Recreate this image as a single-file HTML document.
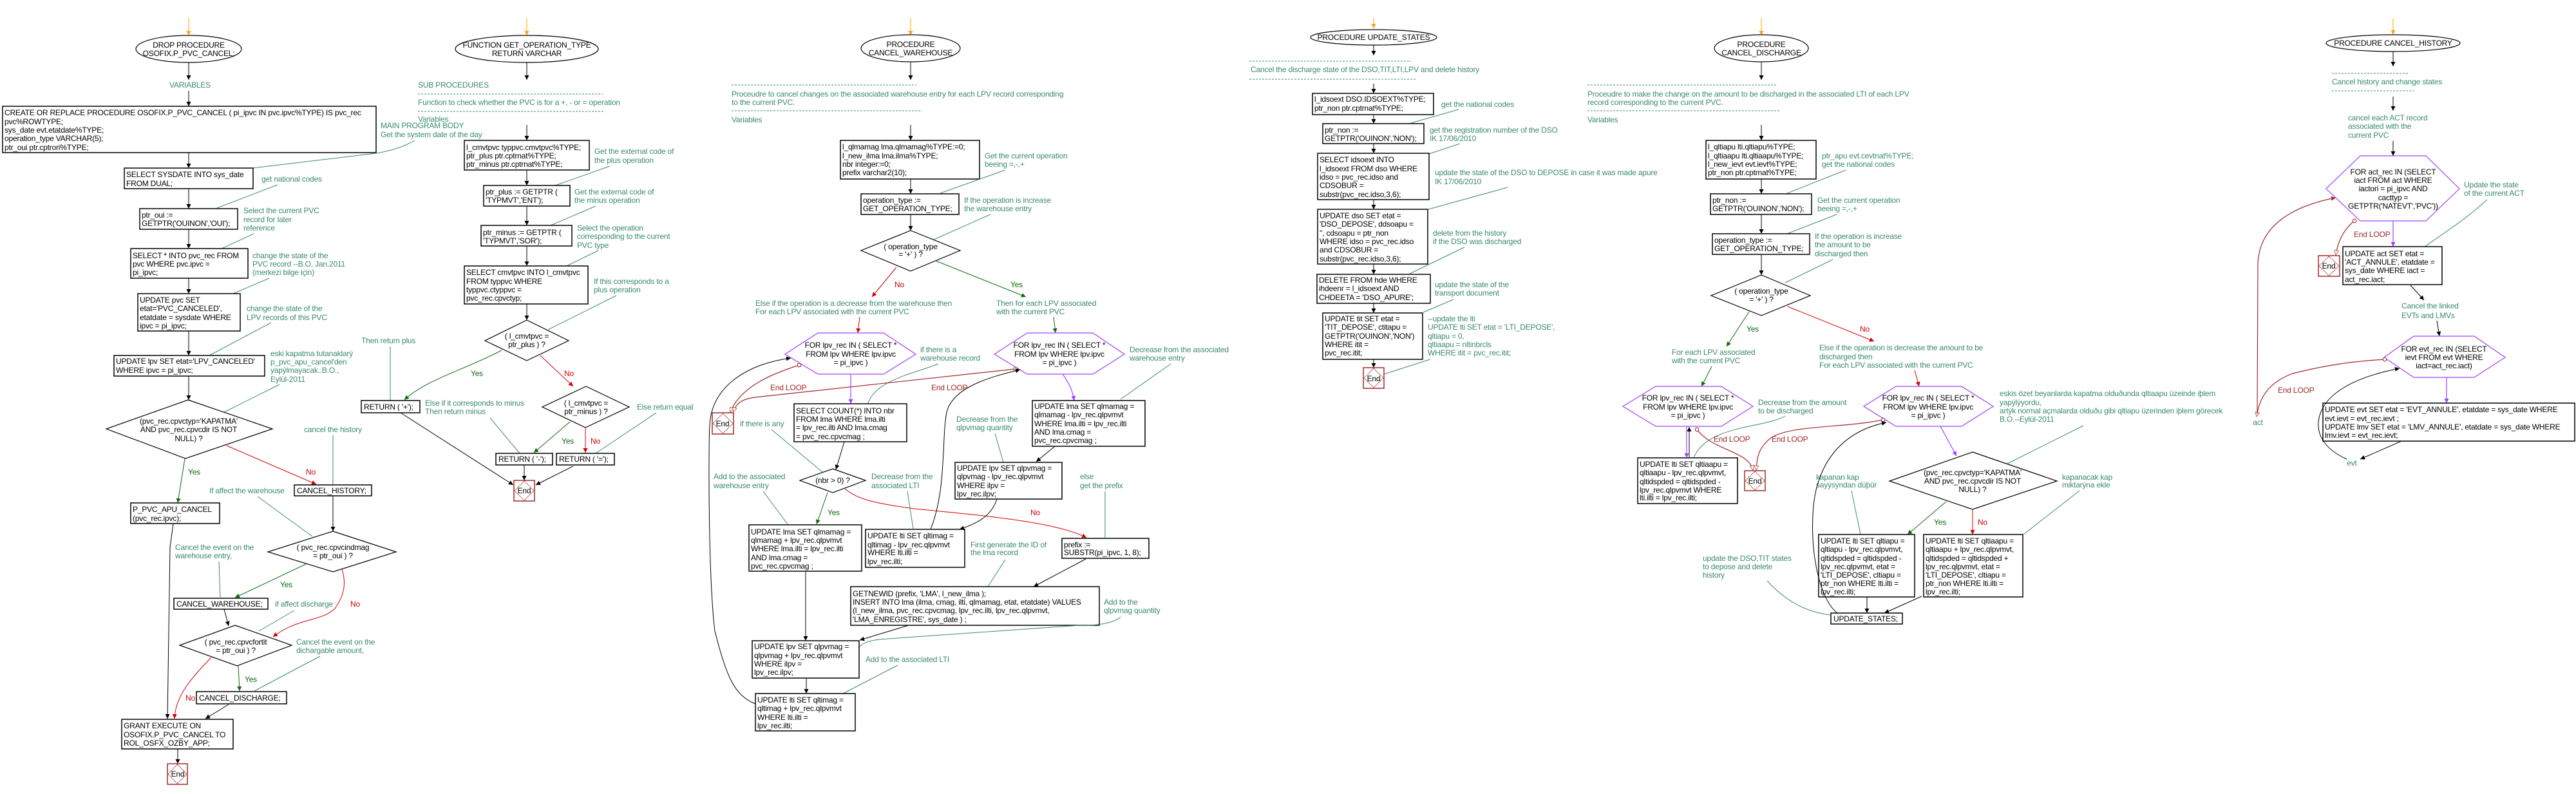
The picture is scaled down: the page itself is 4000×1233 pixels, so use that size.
<!DOCTYPE html>
<html><head><meta charset="utf-8"><style>
html,body{margin:0;padding:0;background:#fff;}
svg{display:block;}
text{font-family:"Liberation Sans","DejaVu Sans",sans-serif;font-size:12px;letter-spacing:-0.2px;fill:#000;}
.c{fill:#3a8a6e;}
.y{fill:#0a6a0a;}
.n{fill:#d00000;}
.l{fill:#a02828;}
.m{text-anchor:middle;}
.b{fill:#fff;stroke:#000;stroke-width:1.5;}
.f{fill:none;stroke:#000;stroke-width:1;}
.g{fill:none;stroke:#3a8a6e;stroke-width:1;}
.gy{fill:none;stroke:#0a6a0a;stroke-width:1;}
.rd{fill:none;stroke:#d00000;stroke-width:1;}
.lp{fill:none;stroke:#a02828;stroke-width:1.2;}
.pu{fill:none;stroke:#a040ff;stroke-width:1.2;}
.hx{fill:#fff;stroke:#a040ff;stroke-width:1.2;}
.dm{fill:#fff;stroke:#000;stroke-width:1.2;}
.el{fill:#fff;stroke:#000;stroke-width:1.2;}
.ds{stroke:#3a8a6e;stroke-width:1;stroke-dasharray:3,2;}
.eb{fill:#fff;stroke:#a02828;stroke-width:1.5;}
.ed{fill:none;stroke:#a02828;stroke-width:1;stroke-dasharray:2,1;}
</style></head><body>
<svg width="4000" height="1233" viewBox="0 0 4000 1233" xmlns="http://www.w3.org/2000/svg">
<defs>
<marker id="ab" viewBox="0 0 10 10" refX="10" refY="5" markerWidth="14" markerHeight="7" orient="auto" markerUnits="userSpaceOnUse"><path d="M0,0 L10,5 L0,10 z" fill="#000"/></marker>
<marker id="ao" viewBox="0 0 10 10" refX="10" refY="5" markerWidth="14" markerHeight="7" orient="auto" markerUnits="userSpaceOnUse"><path d="M0,0 L10,5 L0,10 z" fill="#ffa500"/></marker>
<marker id="ag" viewBox="0 0 10 10" refX="10" refY="5" markerWidth="14" markerHeight="7" orient="auto" markerUnits="userSpaceOnUse"><path d="M0,0 L10,5 L0,10 z" fill="#0a6a0a"/></marker>
<marker id="ar" viewBox="0 0 10 10" refX="10" refY="5" markerWidth="14" markerHeight="7" orient="auto" markerUnits="userSpaceOnUse"><path d="M0,0 L10,5 L0,10 z" fill="#d00000"/></marker>
<marker id="ap" viewBox="0 0 10 10" refX="10" refY="5" markerWidth="14" markerHeight="7" orient="auto" markerUnits="userSpaceOnUse"><path d="M0,0 L10,5 L0,10 z" fill="#a040ff"/></marker>
<marker id="al" viewBox="0 0 10 10" refX="10" refY="5" markerWidth="14" markerHeight="7" orient="auto" markerUnits="userSpaceOnUse"><path d="M0,0 L10,5 L0,10 z" fill="#a02828"/></marker>
<marker id="alo" viewBox="0 0 10 10" refX="10" refY="5" markerWidth="12" markerHeight="7" orient="auto" markerUnits="userSpaceOnUse"><path d="M0,0 L10,5 L0,10 z" fill="#fff" stroke="#a02828"/></marker>
<marker id="ci" viewBox="0 0 10 10" refX="5" refY="5" markerWidth="7" markerHeight="7" markerUnits="userSpaceOnUse"><circle cx="5" cy="5" r="4" fill="#fff" stroke="#a02828" stroke-width="1.5"/></marker>
</defs>

<!-- ================= COLUMN 1 ================= -->
<line x1="293" y1="28" x2="293" y2="55" stroke="#ffa500" marker-end="url(#ao)"/>
<ellipse class="el" cx="293" cy="76" rx="82" ry="21"/>
<text class="m" x="293" y="74">DROP PROCEDURE</text>
<text class="m" x="293" y="87">OSOFIX.P_PVC_CANCEL;</text>
<line class="f" x1="293" y1="97" x2="293" y2="124" marker-end="url(#ab)"/>
<text class="c m" x="295" y="136">VARIABLES</text>
<line class="f" x1="293" y1="141" x2="293" y2="165" marker-end="url(#ab)"/>
<rect class="b" x="4" y="165" width="580" height="72"/>
<text x="7" y="179">CREATE OR REPLACE PROCEDURE OSOFIX.P_PVC_CANCEL ( pi_ipvc IN pvc.ipvc%TYPE) IS pvc_rec</text>
<text x="7" y="193">pvc%ROWTYPE;</text>
<text x="7" y="206">sys_date  evt.etatdate%TYPE;</text>
<text x="7" y="219">operation_type  VARCHAR(5);</text>
<text x="7" y="233">ptr_oui  ptr.cptrori%TYPE;</text>
<text class="c" x="591" y="199">MAIN PROGRAM BODY</text>
<text class="c" x="591" y="213">Get the system date of the day</text>
<path class="g" d="M644,218 Q620,232 584,238 L392,261"/>
<line class="f" x1="293" y1="237" x2="293" y2="261" marker-end="url(#ab)"/>
<rect class="b" x="193" y="261" width="200" height="32"/>
<text x="196" y="275">SELECT SYSDATE INTO sys_date</text>
<text x="196" y="289">FROM DUAL;</text>
<text class="c" x="406" y="282">get national codes</text>
<line class="g" x1="431" y1="287" x2="337" y2="323"/>
<line class="f" x1="293" y1="293" x2="293" y2="324" marker-end="url(#ab)"/>
<rect class="b" x="217" y="324" width="152" height="32"/>
<text x="220" y="338">ptr_oui :=</text>
<text x="220" y="351">GETPTR('OUINON','OUI');</text>
<text class="c" x="378" y="331">Select the current PVC</text>
<text class="c" x="378" y="345">record for later</text>
<text class="c" x="378" y="358">reference</text>
<line class="g" x1="394" y1="363" x2="344" y2="386"/>
<line class="f" x1="293" y1="356" x2="293" y2="386" marker-end="url(#ab)"/>
<rect class="b" x="203" y="386" width="182" height="46"/>
<text x="206" y="401">SELECT * INTO pvc_rec FROM</text>
<text x="206" y="414">pvc WHERE  pvc.ipvc =</text>
<text x="206" y="427">pi_ipvc;</text>
<text class="c" x="392" y="401">change the state of the</text>
<text class="c" x="392" y="414">PVC record --B.O, Jan.2011</text>
<text class="c" x="392" y="427">(merkezi bilge için)</text>
<line class="g" x1="418" y1="432" x2="362" y2="456"/>
<line class="f" x1="293" y1="432" x2="293" y2="456" marker-end="url(#ab)"/>
<rect class="b" x="214" y="456" width="159" height="58"/>
<text x="217" y="470">UPDATE pvc SET</text>
<text x="217" y="483">etat='PVC_CANCELED',</text>
<text x="217" y="497">etatdate = sysdate WHERE</text>
<text x="217" y="510">ipvc = pi_ipvc;</text>
<text class="c" x="383" y="483">change the state of the</text>
<text class="c" x="383" y="497">LPV records of this PVC</text>
<line class="g" x1="421" y1="501" x2="325" y2="552"/>
<line class="f" x1="293" y1="514" x2="293" y2="552" marker-end="url(#ab)"/>
<rect class="b" x="177" y="552" width="234" height="32"/>
<text x="180" y="565">UPDATE lpv SET etat='LPV_CANCELED'</text>
<text x="180" y="579">WHERE ipvc = pi_ipvc;</text>
<text class="c" x="420" y="553">eski kapatma tutanaklarý</text>
<text class="c" x="420" y="566">p_pvc_apu_cancel'den</text>
<text class="c" x="420" y="579">yapýlmayacak..B.O.,</text>
<text class="c" x="420" y="593">Eylül-2011</text>
<line class="g" x1="434" y1="597" x2="348" y2="640"/>
<line class="f" x1="293" y1="584" x2="293" y2="621" marker-end="url(#ab)"/>
<polygon class="dm" points="292,621 423,666 288,712 165,666"/>
<text class="m" x="293" y="658">(pvc_rec.cpvctyp='KAPATMA'</text>
<text class="m" x="293" y="671">AND pvc_rec.cpvcdir IS NOT</text>
<text class="m" x="293" y="685">NULL) ?</text>
<line class="gy" x1="287" y1="712" x2="276" y2="781" marker-end="url(#ag)"/>
<text class="y" x="292" y="737">Yes</text>
<line class="rd" x1="352" y1="692" x2="491" y2="752" marker-end="url(#ar)"/>
<text class="n" x="475" y="737">No</text>
<text class="c m" x="517" y="671">cancel the history</text>
<line class="g" x1="517" y1="676" x2="517" y2="753"/>
<rect class="b" x="457" y="753" width="120" height="17"/>
<text x="461" y="766">CANCEL_HISTORY;</text>
<rect class="b" x="203" y="781" width="138" height="32"/>
<text x="206" y="795">P_PVC_APU_CANCEL</text>
<text x="206" y="809">(pvc_rec.ipvc);</text>
<text class="c" x="325" y="766">If affect the warehouse</text>
<line class="g" x1="400" y1="771" x2="485" y2="833"/>
<line class="f" x1="517" y1="770" x2="517" y2="825" marker-end="url(#ab)"/>
<polygon class="dm" points="517,825 615,857 517,888 416,857"/>
<text class="m" x="517" y="854">( pvc_rec.cpvcindmag</text>
<text class="m" x="517" y="867">= ptr_oui ) ?</text>
<line class="gy" x1="475" y1="876" x2="365" y2="928" marker-end="url(#ag)"/>
<text class="y" x="435" y="912">Yes</text>
<rect class="b" x="270" y="929" width="146" height="17"/>
<text x="274" y="942">CANCEL_WAREHOUSE;</text>
<text class="c" x="272" y="854">Cancel the event on the</text>
<text class="c" x="272" y="867">warehouse entry,</text>
<line class="g" x1="340" y1="872" x2="342" y2="929"/>
<path class="rd" d="M531,884 C536,900 538,920 520,945 C500,965 460,960 424,989" marker-end="url(#ar)"/>
<text class="n" x="544" y="942">No</text>
<text class="c" x="427" y="942">if affect discharge</text>
<line class="g" x1="457" y1="948" x2="402" y2="980"/>
<line class="f" x1="348" y1="946" x2="355" y2="972" marker-end="url(#ab)"/>
<polygon class="dm" points="365,971 453,1002 368,1034 279,1002"/>
<text class="m" x="366" y="1001">( pvc_rec.cpvcfortit</text>
<text class="m" x="366" y="1014">= ptr_oui ) ?</text>
<line class="gy" x1="370" y1="1034" x2="372" y2="1073" marker-end="url(#ag)"/>
<text class="y" x="380" y="1059">Yes</text>
<rect class="b" x="305" y="1074" width="140" height="19"/>
<text x="309" y="1088">CANCEL_DISCHARGE;</text>
<text class="c" x="460" y="1001">Cancel the event on the</text>
<text class="c" x="460" y="1014">dichargable amount,</text>
<line class="g" x1="497" y1="1019" x2="395" y2="1073"/>
<path class="rd" d="M328,1021 C300,1050 272,1080 271,1116" marker-end="url(#ar)"/>
<text class="n" x="288" y="1088">No</text>
<path class="f" d="M269,813 L264,850 L260,1116" marker-end="url(#ab)"/>
<line class="f" x1="355" y1="1094" x2="319" y2="1116" marker-end="url(#ab)"/>
<rect class="b" x="189" y="1117" width="173" height="46"/>
<text x="192" y="1131">GRANT EXECUTE ON</text>
<text x="192" y="1145">OSOFIX.P_PVC_CANCEL TO</text>
<text x="192" y="1158">ROL_OSFX_OZBY_APP;</text>
<line class="f" x1="276" y1="1163" x2="276" y2="1186" marker-end="url(#ab)"/>
<rect class="eb" x="260" y="1186" width="31" height="32"/>
<polygon class="ed" points="275.5,1187 290,1202 275.5,1217 261,1202"/>
<text class="m" x="276" y="1206">End</text>

<!-- ================= COLUMN 2 ================= -->
<line x1="818" y1="28" x2="818" y2="55" stroke="#ffa500" marker-end="url(#ao)"/>
<ellipse class="el" cx="818" cy="76" rx="111" ry="21"/>
<text class="m" x="818" y="74">FUNCTION GET_OPERATION_TYPE</text>
<text class="m" x="818" y="87">RETURN VARCHAR</text>
<line class="f" x1="818" y1="97" x2="818" y2="124" marker-end="url(#ab)"/>
<text class="c" x="649" y="136">SUB PROCEDURES</text>
<line class="ds" x1="649" y1="146" x2="936" y2="146"/>
<text class="c" x="649" y="163">Function to check whether the PVC is for a +, - or = operation</text>
<line class="ds" x1="649" y1="173" x2="939" y2="173"/>
<text class="c" x="649" y="189">Variables</text>
<line class="f" x1="818" y1="194" x2="818" y2="218" marker-end="url(#ab)"/>
<rect class="b" x="721" y="218" width="194" height="46"/>
<text x="724" y="233">l_cmvtpvc  typpvc.cmvtpvc%TYPE;</text>
<text x="724" y="246">ptr_plus ptr.cptrnat%TYPE;</text>
<text x="724" y="259">ptr_minus  ptr.cptrnat%TYPE;</text>
<text class="c" x="923" y="239">Get the external code of</text>
<text class="c" x="923" y="253">the plus operation</text>
<line class="g" x1="947" y1="258" x2="862" y2="288"/>
<line class="f" x1="818" y1="264" x2="818" y2="288" marker-end="url(#ab)"/>
<rect class="b" x="751" y="288" width="134" height="32"/>
<text x="754" y="302">ptr_plus  := GETPTR (</text>
<text x="754" y="315">'TYPMVT','ENT');</text>
<text class="c" x="892" y="302">Get the external code of</text>
<text class="c" x="892" y="315">the minus operation</text>
<line class="g" x1="925" y1="320" x2="855" y2="350"/>
<line class="f" x1="818" y1="320" x2="818" y2="350" marker-end="url(#ab)"/>
<rect class="b" x="747" y="350" width="141" height="32"/>
<text x="750" y="365">ptr_minus := GETPTR (</text>
<text x="750" y="378">'TYPMVT','SOR');</text>
<text class="c" x="896" y="358">Select the operation</text>
<text class="c" x="896" y="371">corresponding to the current</text>
<text class="c" x="896" y="385">PVC type</text>
<line class="g" x1="929" y1="389" x2="880" y2="413"/>
<line class="f" x1="818" y1="382" x2="818" y2="413" marker-end="url(#ab)"/>
<rect class="b" x="721" y="413" width="192" height="59"/>
<text x="724" y="427">SELECT cmvtpvc INTO l_cmvtpvc</text>
<text x="724" y="441">FROM typpvc WHERE</text>
<text x="724" y="454">typpvc.ctyppvc =</text>
<text x="724" y="467">pvc_rec.cpvctyp;</text>
<text class="c" x="922" y="441">If this corresponds to a</text>
<text class="c" x="922" y="454">plus operation</text>
<line class="g" x1="957" y1="459" x2="851" y2="512"/>
<line class="f" x1="818" y1="472" x2="818" y2="497" marker-end="url(#ab)"/>
<polygon class="dm" points="818,497 883,529 818,560 753,529"/>
<text class="m" x="818" y="526">( l_cmvtpvc =</text>
<text class="m" x="818" y="539">ptr_plus ) ?</text>
<path class="gy" d="M779,544 C720,575 660,590 628,621" marker-end="url(#ag)"/>
<text class="y" x="731" y="584">Yes</text>
<line class="rd" x1="839" y1="552" x2="890" y2="600" marker-end="url(#ar)"/>
<text class="n" x="876" y="584">No</text>
<text class="c" x="561" y="533">Then return plus</text>
<line class="g" x1="606" y1="538" x2="606" y2="622"/>
<rect class="b" x="561" y="622" width="91" height="19"/>
<text x="565" y="636">RETURN ( '+');</text>
<polygon class="dm" points="910,600 977,632 909,664 842,632"/>
<text class="m" x="910" y="630">( l_cmvtpvc =</text>
<text class="m" x="910" y="643">ptr_minus ) ?</text>
<text class="c" x="660" y="630">Else if it corresponds to minus</text>
<text class="c" x="660" y="643">Then return minus</text>
<line class="g" x1="761" y1="649" x2="807" y2="704"/>
<text class="c" x="989" y="636">Else return equal</text>
<line class="g" x1="1019" y1="641" x2="925" y2="704"/>
<line class="gy" x1="885" y1="655" x2="829" y2="703" marker-end="url(#ag)"/>
<text class="y" x="872" y="689">Yes</text>
<line class="rd" x1="909" y1="664" x2="909" y2="703" marker-end="url(#ar)"/>
<text class="n" x="917" y="689">No</text>
<rect class="b" x="770" y="704" width="88" height="18"/>
<text x="774" y="717">RETURN ( '-');</text>
<rect class="b" x="864" y="704" width="90" height="18"/>
<text x="868" y="717">RETURN ( '=');</text>
<line class="f" x1="622" y1="641" x2="797" y2="753" marker-end="url(#ab)"/>
<line class="f" x1="814" y1="722" x2="814" y2="746" marker-end="url(#ab)"/>
<line class="f" x1="890" y1="724" x2="832" y2="753" marker-end="url(#ab)"/>
<rect class="eb" x="798" y="746" width="32" height="32"/>
<polygon class="ed" points="814,747 829,762 814,777 799,762"/>
<text class="m" x="814" y="766">End</text>

<!-- ================= COLUMN 3 ================= -->
<line x1="1414" y1="28" x2="1414" y2="55" stroke="#ffa500" marker-end="url(#ao)"/>
<ellipse class="el" cx="1414" cy="75" rx="77" ry="21"/>
<text class="m" x="1414" y="73">PROCEDURE</text>
<text class="m" x="1414" y="86">CANCEL_WAREHOUSE</text>
<line class="f" x1="1414" y1="97" x2="1414" y2="124" marker-end="url(#ab)"/>
<line class="ds" x1="1136" y1="132" x2="1423" y2="132"/>
<text class="c" x="1136" y="150">Proceudre to cancel changes on the associated warehouse entry for each LPV record corresponding</text>
<text class="c" x="1136" y="163">to the current PVC.</text>
<line class="ds" x1="1136" y1="172" x2="1432" y2="172"/>
<text class="c" x="1136" y="190">Variables</text>
<line class="f" x1="1414" y1="194" x2="1414" y2="218" marker-end="url(#ab)"/>
<rect class="b" x="1305" y="218" width="216" height="60"/>
<text x="1308" y="232">l_qlmamag lma.qlmamag%TYPE:=0;</text>
<text x="1308" y="246">l_new_ilma  lma.ilma%TYPE;</text>
<text x="1308" y="259">nbr  integer:=0;</text>
<text x="1308" y="272">prefix  varchar2(10);</text>
<text class="c" x="1529" y="246">Get the current operation</text>
<text class="c" x="1529" y="259">beeing =,-,+</text>
<line class="g" x1="1561" y1="264" x2="1460" y2="300"/>
<line class="f" x1="1414" y1="278" x2="1414" y2="301" marker-end="url(#ab)"/>
<rect class="b" x="1337" y="301" width="152" height="32"/>
<text x="1340" y="315">operation_type :=</text>
<text x="1340" y="328">GET_OPERATION_TYPE;</text>
<text class="c" x="1497" y="315">If the operation is increase</text>
<text class="c" x="1497" y="328">the warehouse entry</text>
<line class="g" x1="1538" y1="333" x2="1450" y2="372"/>
<line class="f" x1="1414" y1="333" x2="1414" y2="358" marker-end="url(#ab)"/>
<polygon class="dm" points="1414,358 1491,389 1414,421 1337,389"/>
<text class="m" x="1414" y="387">( operation_type</text>
<text class="m" x="1414" y="399">= '+' ) ?</text>
<line class="rd" x1="1392" y1="415" x2="1354" y2="461" marker-end="url(#ar)"/>
<text class="n" x="1389" y="446">No</text>
<line class="gy" x1="1453" y1="405" x2="1593" y2="461" marker-end="url(#ag)"/>
<text class="y" x="1569" y="446">Yes</text>
<text class="c" x="1173" y="475">Else if the operation is a decrease from the warehouse then</text>
<text class="c" x="1173" y="488">For each LPV associated with the current PVC</text>
<text class="c" x="1547" y="475">Then for each LPV associated</text>
<text class="c" x="1547" y="488">with the current PVC</text>
<line class="rd" x1="1335" y1="492" x2="1332" y2="517" marker-end="url(#ar)"/>
<line class="gy" x1="1636" y1="492" x2="1639" y2="517" marker-end="url(#ag)"/>
<polygon class="hx" points="1270,517 1372,517 1422,550 1372,581 1270,581 1219,550"/>
<text class="m" x="1321" y="540">FOR lpv_rec IN ( SELECT *</text>
<text class="m" x="1321" y="554">FROM  lpv WHERE lpv.ipvc</text>
<text class="m" x="1321" y="567">= pi_ipvc )</text>
<text class="c" x="1429" y="547">if there is a</text>
<text class="c" x="1429" y="560">warehouse record</text>
<path class="g" d="M1457,565 C1420,580 1360,590 1348,626"/>
<polygon class="hx" points="1595,517 1697,517 1746,550 1697,581 1595,581 1544,550"/>
<text class="m" x="1645" y="540">FOR lpv_rec IN ( SELECT *</text>
<text class="m" x="1645" y="554">FROM  lpv WHERE lpv.ipvc</text>
<text class="m" x="1645" y="567">= pi_ipvc )</text>
<text class="c" x="1754" y="547">Decrease from the associated</text>
<text class="c" x="1754" y="560">warehouse entry</text>
<line class="g" x1="1818" y1="565" x2="1740" y2="620"/>
<text class="l" x="1196" y="606">End LOOP</text>
<text class="l" x="1446" y="606">End LOOP</text>
<path class="lp" d="M1241,567 C1200,580 1150,600 1134,640" marker-start="url(#ci)" marker-end="url(#alo)"/>
<path class="lp" d="M1577,573 L1172,617 C1150,620 1142,628 1139,640" marker-start="url(#ci)" marker-end="url(#alo)"/>
<rect class="eb" x="1106" y="641" width="33" height="33"/>
<polygon class="ed" points="1122.5,642 1138,657.5 1122.5,673 1107,657.5"/>
<text class="m" x="1122" y="662">End</text>
<text class="c" x="1149" y="662">if there is any</text>
<line class="pu" x1="1321" y1="581" x2="1321" y2="627" marker-end="url(#ap)"/>
<rect class="b" x="1233" y="627" width="175" height="59"/>
<text x="1236" y="642">SELECT COUNT(*) INTO  nbr</text>
<text x="1236" y="655">FROM  lma WHERE lma.ilti</text>
<text x="1236" y="668">= lpv_rec.ilti AND lma.cmag</text>
<text x="1236" y="682">= pvc_rec.cpvcmag ;</text>
<line class="g" x1="1198" y1="667" x2="1277" y2="733"/>
<line class="f" x1="1311" y1="686" x2="1298" y2="729" marker-end="url(#ab)"/>
<polygon class="dm" points="1293,728 1344,746 1293,765 1242,746"/>
<text class="m" x="1293" y="750">(nbr &gt; 0) ?</text>
<line class="gy" x1="1285" y1="765" x2="1268" y2="814" marker-end="url(#ag)"/>
<text class="y" x="1285" y="800">Yes</text>
<path class="rd" d="M1312,759 C1330,775 1360,782 1420,790 C1520,800 1640,810 1687,835" marker-end="url(#ar)"/>
<text class="n" x="1600" y="800">No</text>
<text class="c" x="1108" y="744">Add to the associated</text>
<text class="c" x="1108" y="758">warehouse entry</text>
<line class="g" x1="1185" y1="763" x2="1223" y2="814"/>
<rect class="b" x="1163" y="815" width="175" height="72"/>
<text x="1166" y="830">UPDATE lma SET qlmamag =</text>
<text x="1166" y="843">qlmamag + lpv_rec.qlpvmvt</text>
<text x="1166" y="856">WHERE lma.ilti = lpv_rec.ilti</text>
<text x="1166" y="870">AND lma.cmag =</text>
<text x="1166" y="883">pvc_rec.cpvcmag ;</text>
<text class="c" x="1353" y="744">Decrease from the</text>
<text class="c" x="1353" y="758">associated LTI</text>
<line class="g" x1="1409" y1="763" x2="1418" y2="821"/>
<rect class="b" x="1344" y="822" width="154" height="59"/>
<text x="1347" y="836">UPDATE lti SET qltimag  =</text>
<text x="1347" y="850">qltimag - lpv_rec.qlpvmvt</text>
<text x="1347" y="862">WHERE lti.ilti =</text>
<text x="1347" y="876">lpv_rec.ilti;</text>
<path class="f" d="M1445,822 C1470,760 1462,680 1470,640 C1480,600 1540,585 1584,574" marker-end="url(#ab)"/>
<path class="pu" d="M1650,581 C1660,595 1665,605 1668,622" marker-end="url(#ap)"/>
<rect class="b" x="1603" y="622" width="175" height="71"/>
<text x="1606" y="635">UPDATE lma SET qlmamag =</text>
<text x="1606" y="648">qlmamag - lpv_rec.qlpvmvt</text>
<text x="1606" y="662">WHERE lma.ilti = lpv_rec.ilti</text>
<text x="1606" y="675">AND lma.cmag =</text>
<text x="1606" y="688">pvc_rec.cpvcmag ;</text>
<line class="f" x1="1638" y1="693" x2="1609" y2="717" marker-end="url(#ab)"/>
<text class="c" x="1485" y="655">Decrease from the</text>
<text class="c" x="1485" y="668">qlpvmag quantity</text>
<line class="g" x1="1545" y1="673" x2="1558" y2="718"/>
<rect class="b" x="1483" y="718" width="166" height="57"/>
<text x="1486" y="731">UPDATE lpv SET qlpvmag =</text>
<text x="1486" y="744">qlpvmag - lpv_rec.qlpvmvt</text>
<text x="1486" y="758">WHERE ilpv =</text>
<text x="1486" y="771">lpv_rec.ilpv;</text>
<path class="f" d="M1548,775 C1540,800 1520,812 1490,822" marker-end="url(#ab)"/>
<text class="c" x="1677" y="744">else</text>
<text class="c" x="1677" y="758">get the prefix</text>
<line class="g" x1="1716" y1="763" x2="1716" y2="835"/>
<rect class="b" x="1649" y="836" width="135" height="31"/>
<text x="1652" y="850">prefix :=</text>
<text x="1652" y="862">SUBSTR(pi_ipvc, 1, 8);</text>
<line class="f" x1="1686" y1="868" x2="1605" y2="911" marker-end="url(#ab)"/>
<text class="c" x="1507" y="850">First generate the ID of</text>
<text class="c" x="1507" y="862">the lma record</text>
<line class="g" x1="1561" y1="869" x2="1534" y2="911"/>
<rect class="b" x="1321" y="911" width="386" height="60"/>
<text x="1324" y="926">GETNEWID (prefix, 'LMA', l_new_ilma );</text>
<text x="1324" y="939">INSERT INTO lma (ilma, cmag, ilti, qlmamag, etat, etatdate) VALUES</text>
<text x="1324" y="952">(l_new_ilma, pvc_rec.cpvcmag, lpv_rec.ilti, lpv_rec.qlpvmvt,</text>
<text x="1324" y="966">'LMA_ENREGISTRE', sys_date ) ;</text>
<text class="c" x="1714" y="939">Add to the</text>
<text class="c" x="1714" y="952">qlpvmag quantity</text>
<path class="g" d="M1740,958 C1730,968 1700,972 1676,971 L1364,993 C1345,996 1337,1000 1335,1005"/>
<line class="f" x1="1411" y1="971" x2="1335" y2="994" marker-end="url(#ab)"/>
<line class="f" x1="1251" y1="887" x2="1251" y2="995" marker-end="url(#ab)"/>
<rect class="b" x="1168" y="995" width="166" height="58"/>
<text x="1171" y="1008">UPDATE lpv SET qlpvmag =</text>
<text x="1171" y="1022">qlpvmag + lpv_rec.qlpvmvt</text>
<text x="1171" y="1035">WHERE ilpv =</text>
<text x="1171" y="1048">lpv_rec.ilpv;</text>
<text class="c" x="1344" y="1028">Add to the associated LTI</text>
<line class="g" x1="1394" y1="1033" x2="1309" y2="1077"/>
<line class="f" x1="1252" y1="1053" x2="1252" y2="1077" marker-end="url(#ab)"/>
<rect class="b" x="1173" y="1077" width="155" height="58"/>
<text x="1176" y="1091">UPDATE lti SET qltimag  =</text>
<text x="1176" y="1104">qltimag + lpv_rec.qlpvmvt</text>
<text x="1176" y="1118">WHERE lti.ilti =</text>
<text x="1176" y="1131">lpv_rec.ilti;</text>
<path class="f" d="M1173,1093 C1140,1080 1128,1050 1110,980 C1100,900 1100,700 1102,660 C1105,600 1160,565 1228,556" marker-end="url(#ab)"/>

<!-- ================= COLUMN 4 ================= -->
<line x1="2133" y1="28" x2="2133" y2="44" stroke="#ffa500" marker-end="url(#ao)"/>
<ellipse class="el" cx="2133" cy="58" rx="98" ry="12"/>
<text class="m" x="2133" y="62">PROCEDURE UPDATE_STATES</text>
<line class="f" x1="2133" y1="70" x2="2133" y2="86" marker-end="url(#ab)"/>
<line class="ds" x1="1940" y1="95" x2="2191" y2="95"/>
<text class="c" x="1942" y="112">Cancel the discharge state of the DSO,TIT,LTI,LPV and delete history</text>
<line class="ds" x1="1940" y1="123" x2="2199" y2="123"/>
<line class="f" x1="2133" y1="130" x2="2133" y2="145" marker-end="url(#ab)"/>
<rect class="b" x="2038" y="145" width="188" height="33"/>
<text x="2041" y="158">l_idsoext DSO.IDSOEXT%TYPE;</text>
<text x="2041" y="172">ptr_non  ptr.cptrnat%TYPE;</text>
<text class="c" x="2238" y="166">get the national codes</text>
<line class="g" x1="2265" y1="170" x2="2191" y2="191"/>
<line class="f" x1="2133" y1="178" x2="2133" y2="192" marker-end="url(#ab)"/>
<rect class="b" x="2054" y="192" width="157" height="31"/>
<text x="2057" y="206">ptr_non :=</text>
<text x="2057" y="219">GETPTR('OUINON','NON');</text>
<text class="c" x="2220" y="206">get the registration number of the DSO</text>
<text class="c" x="2220" y="219">IK 17/06/2010</text>
<line class="g" x1="2267" y1="223" x2="2219" y2="239"/>
<line class="f" x1="2133" y1="223" x2="2133" y2="238" marker-end="url(#ab)"/>
<rect class="b" x="2046" y="238" width="173" height="72"/>
<text x="2049" y="252">SELECT idsoext INTO</text>
<text x="2049" y="266">l_idsoext FROM  dso WHERE</text>
<text x="2049" y="279">idso = pvc_rec.idso  and</text>
<text x="2049" y="292">CDSOBUR =</text>
<text x="2049" y="306">substr(pvc_rec.idso,3,6);</text>
<text class="c" x="2228" y="272">update the state of the DSO to DEPOSE in case it was made apure</text>
<text class="c" x="2228" y="286">IK 17/06/2010</text>
<line class="g" x1="2341" y1="291" x2="2218" y2="325"/>
<line class="f" x1="2133" y1="310" x2="2133" y2="325" marker-end="url(#ab)"/>
<rect class="b" x="2046" y="325" width="171" height="85"/>
<text x="2049" y="339">UPDATE dso SET etat =</text>
<text x="2049" y="352">'DSO_DEPOSE', ddsoapu =</text>
<text x="2049" y="366">'', cdsoapu =  ptr_non</text>
<text x="2049" y="379">WHERE  idso = pvc_rec.idso</text>
<text x="2049" y="392">and CDSOBUR =</text>
<text x="2049" y="406">substr(pvc_rec.idso,3,6);</text>
<text class="c" x="2225" y="366">delete from the history</text>
<text class="c" x="2225" y="379">if the DSO was discharged</text>
<line class="g" x1="2274" y1="384" x2="2189" y2="425"/>
<line class="f" x1="2133" y1="410" x2="2133" y2="426" marker-end="url(#ab)"/>
<rect class="b" x="2045" y="426" width="176" height="45"/>
<text x="2048" y="439">DELETE  FROM  hde WHERE</text>
<text x="2048" y="452">ihdeenr = l_idsoext AND</text>
<text x="2048" y="466">CHDEETA = 'DSO_APURE';</text>
<text class="c" x="2228" y="446">update the state of the</text>
<text class="c" x="2228" y="459">transport document</text>
<line class="g" x1="2257" y1="465" x2="2210" y2="485"/>
<line class="f" x1="2133" y1="471" x2="2133" y2="486" marker-end="url(#ab)"/>
<rect class="b" x="2054" y="486" width="155" height="72"/>
<text x="2057" y="499">UPDATE tit SET  etat =</text>
<text x="2057" y="512">'TIT_DEPOSE', ctitapu =</text>
<text x="2057" y="526">GETPTR('OUINON','NON')</text>
<text x="2057" y="539">WHERE itit =</text>
<text x="2057" y="552">pvc_rec.itit;</text>
<text class="c" x="2217" y="499">--update the lti</text>
<text class="c" x="2217" y="512">UPDATE lti  SET  etat = 'LTI_DEPOSE',</text>
<text class="c" x="2217" y="526">qltiapu = 0,</text>
<text class="c" x="2217" y="539">qltiaapu = nltinbrcls</text>
<text class="c" x="2217" y="552">WHERE itit = pvc_rec.itit;</text>
<line class="g" x1="2221" y1="558" x2="2149" y2="581"/>
<line class="f" x1="2133" y1="558" x2="2133" y2="571" marker-end="url(#ab)"/>
<rect class="eb" x="2117" y="571" width="32" height="32"/>
<polygon class="ed" points="2133,572 2148,587 2133,602 2118,587"/>
<text class="m" x="2133" y="592">End</text>

<!-- ================= COLUMN 5 ================= -->
<line x1="2735" y1="28" x2="2735" y2="55" stroke="#ffa500" marker-end="url(#ao)"/>
<ellipse class="el" cx="2735" cy="75" rx="73" ry="21"/>
<text class="m" x="2735" y="73">PROCEDURE</text>
<text class="m" x="2735" y="86">CANCEL_DISCHARGE</text>
<line class="f" x1="2735" y1="97" x2="2735" y2="124" marker-end="url(#ab)"/>
<line class="ds" x1="2465" y1="132" x2="2760" y2="132"/>
<text class="c" x="2465" y="150">Proceudre to make the change on the amount to be discharged in the associated LTI of each LPV</text>
<text class="c" x="2465" y="163">record corresponding to the current PVC.</text>
<line class="ds" x1="2465" y1="172" x2="2765" y2="172"/>
<text class="c" x="2465" y="190">Variables</text>
<line class="f" x1="2735" y1="194" x2="2735" y2="218" marker-end="url(#ab)"/>
<rect class="b" x="2649" y="218" width="171" height="60"/>
<text x="2652" y="232">l_qltiapu  lti.qltiapu%TYPE;</text>
<text x="2652" y="246">l_qltiaapu lti.qltiaapu%TYPE;</text>
<text x="2652" y="259">l_new_ievt evt.ievt%TYPE;</text>
<text x="2652" y="272">ptr_non ptr.cptrnat%TYPE;</text>
<text class="c" x="2829" y="246">ptr_apu  evt.cevtnat%TYPE;</text>
<text class="c" x="2829" y="259">get the national codes</text>
<line class="g" x1="2866" y1="264" x2="2773" y2="301"/>
<line class="f" x1="2735" y1="278" x2="2735" y2="301" marker-end="url(#ab)"/>
<rect class="b" x="2656" y="301" width="157" height="32"/>
<text x="2659" y="315">ptr_non :=</text>
<text x="2659" y="328">GETPTR('OUINON','NON');</text>
<text class="c" x="2822" y="315">Get the current operation</text>
<text class="c" x="2822" y="328">beeing =,-,+</text>
<line class="g" x1="2852" y1="333" x2="2775" y2="363"/>
<line class="f" x1="2735" y1="333" x2="2735" y2="363" marker-end="url(#ab)"/>
<rect class="b" x="2659" y="363" width="151" height="32"/>
<text x="2662" y="377">operation_type :=</text>
<text x="2662" y="390">GET_OPERATION_TYPE;</text>
<text class="c" x="2818" y="371">If the operation is increase</text>
<text class="c" x="2818" y="384">the amount to be</text>
<text class="c" x="2818" y="398">discharged then</text>
<line class="g" x1="2846" y1="403" x2="2772" y2="439"/>
<line class="f" x1="2735" y1="395" x2="2735" y2="427" marker-end="url(#ab)"/>
<polygon class="dm" points="2735,427 2811,459 2735,490 2657,459"/>
<text class="m" x="2735" y="456">( operation_type</text>
<text class="m" x="2735" y="469">= '+' ) ?</text>
<line class="gy" x1="2716" y1="484" x2="2681" y2="538" marker-end="url(#ag)"/>
<text class="y" x="2712" y="515">Yes</text>
<line class="rd" x1="2776" y1="476" x2="2910" y2="530" marker-end="url(#ar)"/>
<text class="n" x="2888" y="515">No</text>
<text class="c" x="2596" y="551">For each LPV associated</text>
<text class="c" x="2596" y="564">with the current PVC</text>
<text class="c" x="2825" y="544">Else if the operation is decrease the amount to be</text>
<text class="c" x="2825" y="558">discharged then</text>
<text class="c" x="2825" y="571">For each LPV associated with the current PVC</text>
<line class="gy" x1="2658" y1="569" x2="2642" y2="600" marker-end="url(#ag)"/>
<line class="rd" x1="2973" y1="575" x2="2980" y2="600" marker-end="url(#ar)"/>
<polygon class="hx" points="2571,600 2673,600 2722,631 2673,662 2571,662 2520,631"/>
<text class="m" x="2621" y="622">FOR lpv_rec IN ( SELECT *</text>
<text class="m" x="2621" y="636">FROM  lpv WHERE lpv.ipvc</text>
<text class="m" x="2621" y="649">= pi_ipvc )</text>
<polygon class="hx" points="2944,600 3046,600 3095,631 3046,662 2944,662 2894,631"/>
<text class="m" x="2994" y="622">FOR lpv_rec IN ( SELECT *</text>
<text class="m" x="2994" y="636">FROM  lpv WHERE lpv.ipvc</text>
<text class="m" x="2994" y="649">= pi_ipvc )</text>
<text class="c" x="2730" y="629">Decrease from the amount</text>
<text class="c" x="2730" y="642">to be discharged</text>
<path class="g" d="M2772,646 C2740,665 2650,660 2630,711"/>
<text class="c" x="3105" y="615">eskis özet beyanlarda kapatma olduðunda qltiaapu üzeinde iþlem</text>
<text class="c" x="3105" y="629">yapýlýyordu,</text>
<text class="c" x="3105" y="642">artýk normal açmalarda olduðu gibi qltiapu üzerinden iþlem görecek</text>
<text class="c" x="3105" y="655">B.O.--Eylül-2011</text>
<line class="g" x1="3235" y1="661" x2="3117" y2="720"/>
<line class="pu" x1="2619" y1="662" x2="2619" y2="711" marker-end="url(#ap)"/>
<line class="f" x1="2623" y1="711" x2="2623" y2="663" marker-end="url(#ab)"/>
<rect class="b" x="2543" y="711" width="155" height="71"/>
<text x="2546" y="725">UPDATE lti SET qltiaapu =</text>
<text x="2546" y="738">qltiaapu - lpv_rec.qlpvmvt,</text>
<text x="2546" y="752">qltidspded = qltidspded -</text>
<text x="2546" y="765">lpv_rec.qlpvmvt WHERE</text>
<text x="2546" y="777">lti.ilti = lpv_rec.ilti;</text>
<text class="l" x="2661" y="686">End LOOP</text>
<text class="l" x="2751" y="686">End LOOP</text>
<path class="lp" d="M2635,667 C2660,700 2715,700 2722,730" marker-start="url(#ci)" marker-end="url(#alo)"/>
<path class="lp" d="M2924,652 C2860,665 2780,660 2750,680 C2730,695 2728,712 2727,730" marker-start="url(#ci)" marker-end="url(#alo)"/>
<rect class="eb" x="2709" y="731" width="32" height="31"/>
<polygon class="ed" points="2725,732 2740,746.5 2725,761 2710,746.5"/>
<text class="m" x="2725" y="751">End</text>
<path class="pu" d="M3013,662 L3038,708" marker-end="url(#ap)"/>
<polygon class="dm" points="3063,702 3194,747 3063,791 2934,747"/>
<text class="m" x="3063" y="738">(pvc_rec.cpvctyp='KAPATMA'</text>
<text class="m" x="3063" y="751">AND pvc_rec.cpvcdir IS NOT</text>
<text class="m" x="3063" y="764">NULL) ?</text>
<line class="gy" x1="3022" y1="779" x2="2962" y2="830" marker-end="url(#ag)"/>
<text class="y" x="3003" y="815">Yes</text>
<line class="rd" x1="3063" y1="791" x2="3063" y2="830" marker-end="url(#ar)"/>
<text class="n" x="3071" y="815">No</text>
<text class="c" x="2820" y="745">kapanan kap</text>
<text class="c" x="2820" y="757">sayýsýndan düþür</text>
<line class="g" x1="2875" y1="762" x2="2889" y2="830"/>
<text class="c" x="3202" y="745">kapanacak kap</text>
<text class="c" x="3202" y="757">miktarýna ekle</text>
<line class="g" x1="3229" y1="762" x2="3142" y2="830"/>
<rect class="b" x="2824" y="830" width="149" height="97"/>
<text x="2827" y="844">UPDATE lti SET qltiapu =</text>
<text x="2827" y="857">qltiapu - lpv_rec.qlpvmvt,</text>
<text x="2827" y="871">qltidspded = qltidspded -</text>
<text x="2827" y="884">lpv_rec.qlpvmvt, etat =</text>
<text x="2827" y="897">'LTI_DEPOSE', cltiapu  =</text>
<text x="2827" y="910">ptr_non WHERE lti.ilti =</text>
<text x="2827" y="923">lpv_rec.ilti;</text>
<rect class="b" x="2987" y="830" width="154" height="97"/>
<text x="2990" y="844">UPDATE lti SET qltiaapu =</text>
<text x="2990" y="857">qltiaapu + lpv_rec.qlpvmvt,</text>
<text x="2990" y="871">qltidspded = qltidspded +</text>
<text x="2990" y="884">lpv_rec.qlpvmvt, etat =</text>
<text x="2990" y="897">'LTI_DEPOSE', cltiapu  =</text>
<text x="2990" y="910">ptr_non WHERE lti.ilti =</text>
<text x="2990" y="923">lpv_rec.ilti;</text>
<line class="f" x1="2899" y1="927" x2="2899" y2="952" marker-end="url(#ab)"/>
<line class="f" x1="2984" y1="926" x2="2926" y2="952" marker-end="url(#ab)"/>
<rect class="b" x="2843" y="952" width="111" height="17"/>
<text x="2847" y="965">UPDATE_STATES;</text>
<text class="c" x="2644" y="871">update the DSO,TIT states</text>
<text class="c" x="2644" y="884">to depose and delete</text>
<text class="c" x="2644" y="897">history</text>
<path class="g" d="M2744,902 C2770,930 2800,950 2843,955"/>
<path class="f" d="M2853,952 C2825,930 2812,860 2815,800 C2818,720 2860,670 2929,656" marker-end="url(#ab)"/>

<!-- ================= COLUMN 6 ================= -->
<line x1="3716" y1="29" x2="3716" y2="54" stroke="#ffa500" marker-end="url(#ao)"/>
<ellipse class="el" cx="3716" cy="67" rx="104" ry="13"/>
<text class="m" x="3716" y="71">PROCEDURE CANCEL_HISTORY</text>
<line class="f" x1="3716" y1="80" x2="3716" y2="103" marker-end="url(#ab)"/>
<line class="ds" x1="3621" y1="114" x2="3740" y2="114"/>
<text class="c" x="3621" y="131">Cancel history and change states</text>
<line class="ds" x1="3621" y1="141" x2="3748" y2="141"/>
<line class="f" x1="3716" y1="150" x2="3716" y2="172" marker-end="url(#ab)"/>
<text class="c" x="3646" y="187">cancel each ACT record</text>
<text class="c" x="3646" y="200">associated with the</text>
<text class="c" x="3646" y="214">current PVC</text>
<line class="f" x1="3716" y1="219" x2="3716" y2="242" marker-end="url(#ab)"/>
<polygon class="hx" points="3665,242 3767,242 3819,293 3767,343 3665,343 3612,293"/>
<text class="m" x="3716" y="271">FOR act_rec IN (SELECT</text>
<text class="m" x="3716" y="284">iact  FROM  act WHERE</text>
<text class="m" x="3716" y="297">iactori = pi_ipvc AND</text>
<text class="m" x="3716" y="311">cacttyp =</text>
<text class="m" x="3716" y="324">GETPTR('NATEVT','PVC'))</text>
<text class="c" x="3826" y="291">Update the state</text>
<text class="c" x="3826" y="304">of the current ACT</text>
<path class="g" d="M3862,310 C3830,340 3790,365 3764,384"/>
<line class="pu" x1="3716" y1="343" x2="3716" y2="383" marker-end="url(#ap)"/>
<text class="l" x="3655" y="368">End LOOP</text>
<path class="lp" d="M3656,343 C3640,355 3630,375 3627,396" marker-start="url(#ci)" marker-end="url(#alo)"/>
<rect class="eb" x="3600" y="397" width="33" height="32"/>
<polygon class="ed" points="3616.5,398 3632,413 3616.5,428 3601,413"/>
<text class="m" x="3616" y="417">End</text>
<rect class="b" x="3638" y="383" width="154" height="59"/>
<text x="3641" y="398">UPDATE act SET  etat =</text>
<text x="3641" y="411">'ACT_ANNULE', etatdate =</text>
<text x="3641" y="424">sys_date WHERE iact =</text>
<text x="3641" y="438">act_rec.iact;</text>
<line class="f" x1="3743" y1="443" x2="3764" y2="466" marker-end="url(#ab)"/>
<text class="c" x="3729" y="479">Cancel the linked</text>
<text class="c" x="3729" y="494">EVTs and LMVs</text>
<line class="f" x1="3784" y1="498" x2="3788" y2="522" marker-end="url(#ab)"/>
<polygon class="hx" points="3748,522 3842,522 3890,555 3842,586 3748,586 3702,555"/>
<text class="m" x="3795" y="546">FOR evt_rec IN (SELECT</text>
<text class="m" x="3795" y="559">ievt FROM evt WHERE</text>
<text class="m" x="3795" y="572">iact=act_rec.iact)</text>
<line class="pu" x1="3799" y1="586" x2="3799" y2="626" marker-end="url(#ap)"/>
<rect class="b" x="3607" y="626" width="391" height="59"/>
<text x="3610" y="640">UPDATE evt SET etat = 'EVT_ANNULE', etatdate = sys_date WHERE</text>
<text x="3610" y="654">evt.ievt = evt_rec.ievt ;</text>
<text x="3610" y="667">UPDATE lmv  SET etat = 'LMV_ANNULE', etatdate = sys_date WHERE</text>
<text x="3610" y="680">lmv.ievt = evt_rec.ievt;</text>
<text class="l" x="3537" y="610">End LOOP</text>
<path class="lp" d="M3703,558 C3640,562 3600,570 3560,580 C3520,595 3508,620 3504,647" marker-start="url(#ci)" marker-end="url(#alo)"/>
<text class="c m" x="3506" y="660">act</text>
<path class="lp" d="M3505,643 L3506,410 C3508,350 3560,320 3627,307" marker-end="url(#al)"/>
<line class="f" x1="3729" y1="685" x2="3665" y2="713" marker-end="url(#ab)"/>
<text class="c m" x="3652" y="723">evt</text>
<path class="f" d="M3644,713 C3615,700 3598,680 3600,655 C3605,610 3660,585 3726,572" marker-end="url(#ab)"/>
</svg>
</body></html>
